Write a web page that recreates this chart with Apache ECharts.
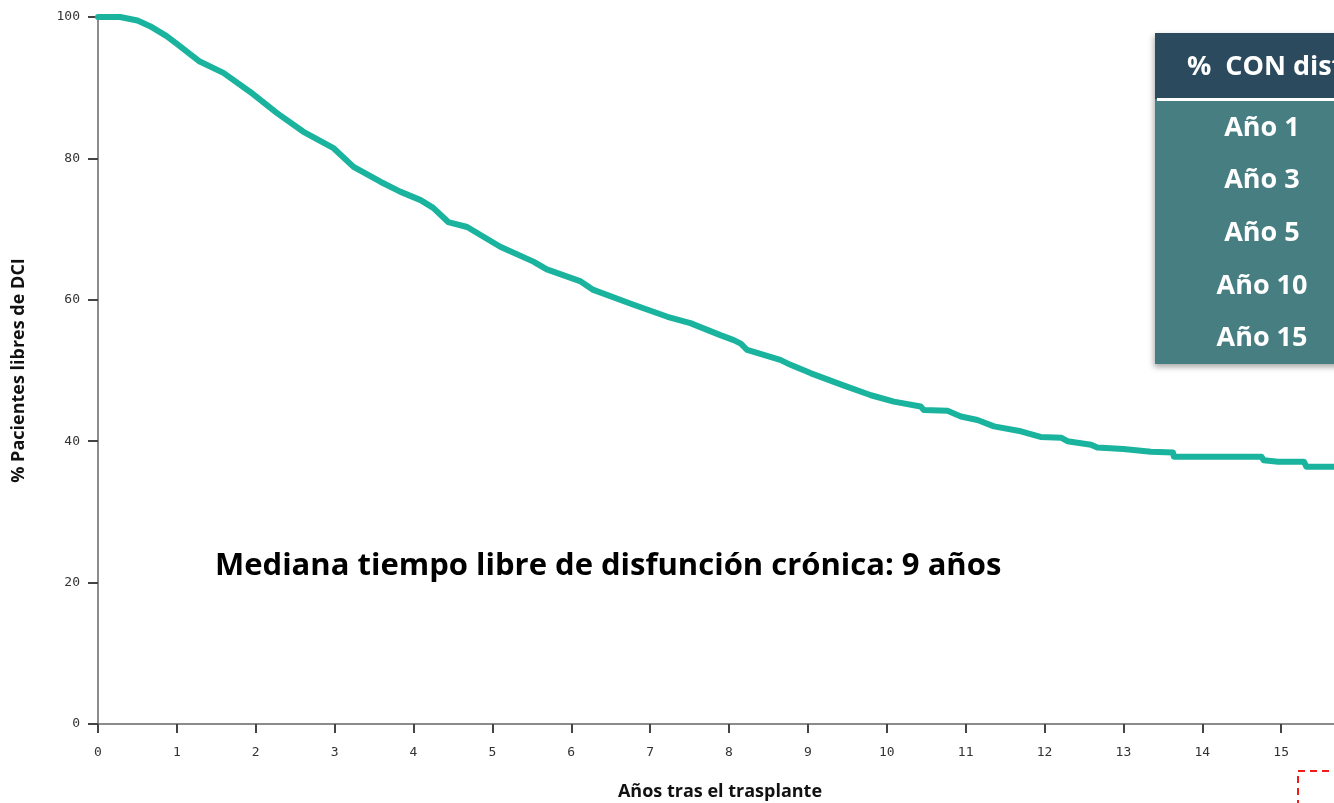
<!DOCTYPE html>
<html>
<head>
<meta charset="utf-8">
<script src="https://cdn.jsdelivr.net/npm/echarts@6/dist/echarts.min.js"></script>
<style>
    html, body { margin: 0; padding: 0; background: #fff; }
    #chart { width: 1334px; height: 803px; }
</style>
</head>
<body>
<div id="chart"></div>
<script>
// Kaplan-Meier curve (years, % free of DCI)
const years = [
    0, 0.28, 0.5, 0.66, 0.87, 1.0, 1.29, 1.59, 1.93, 2.27, 2.6, 2.98, 3.24, 3.58, 3.83, 4.09,
    4.25, 4.44, 4.68, 5.1, 5.52, 5.69, 6.12, 6.28, 6.79, 7.22, 7.51, 7.89, 8.06, 8.15, 8.23,
    8.65, 8.78, 9.04, 9.45, 9.8, 10.09, 10.43, 10.47, 10.77, 10.94, 11.15, 11.36, 11.7, 11.95,
    12.21, 12.29, 12.59, 12.67, 13.0, 13.35, 13.63, 13.64, 14.75, 14.78, 14.96, 15.29, 15.32, 15.9
];
const freePct = [
    100, 100, 99.5, 98.7, 97.3, 96.2, 93.7, 92.1, 89.4, 86.4, 83.8, 81.5, 78.8, 76.7, 75.3, 74.1,
    73.0, 71.0, 70.3, 67.5, 65.4, 64.3, 62.6, 61.4, 59.3, 57.6, 56.7, 55.0, 54.3, 53.8, 52.9,
    51.5, 50.8, 49.6, 47.9, 46.5, 45.6, 44.9, 44.4, 44.3, 43.5, 43.0, 42.1, 41.4, 40.6,
    40.5, 40.0, 39.5, 39.1, 38.9, 38.5, 38.4, 37.8, 37.8, 37.3, 37.1, 37.1, 36.4, 36.4
];
const yTicks = [0, 20, 40, 60, 80, 100];
const xTickCount = 16;

const tableHeader = '%  CON disfunción';
const tableRows = ['Año 1', 'Año 3', 'Año 5', 'Año 10', 'Año 15'];

const medianNote = 'Mediana tiempo libre de disfunción crónica: 9 años';
const xTitle = 'Años tras el trasplante';
const yTitle = '% Pacientes libres de DCI';

const tickFont = {
    fontFamily: 'DejaVu Sans Mono',
    fontSize: 13,
    color: '#333'
};

const titleFont = {
    fontFamily: 'Open Sans',
    fontWeight: 'bold',
    fontSize: 18,
    color: '#111'
};

const buildTable = () => {
    const children = [
        {
            type: 'rect',
            shape: { x: 1155, y: 33, width: 260, height: 331 },
            style: {
                fill: '#467e82',
                shadowBlur: 6,
                shadowOffsetX: -1,
                shadowOffsetY: 3,
                shadowColor: 'rgba(0,0,0,0.35)'
            }
        },
        {
            type: 'rect',
            shape: { x: 1155, y: 33, width: 260, height: 66 },
            style: { fill: '#2c4a5e' }
        },
        {
            type: 'rect',
            shape: { x: 1157, y: 98, width: 260, height: 3 },
            style: { fill: '#ffffff' }
        },
        {
            type: 'text',
            x: 1187,
            y: 67,
            style: {
                text: tableHeader,
                fill: '#fff',
                font: 'bold 27px "Open Sans"',
                textVerticalAlign: 'middle'
            }
        }
    ];
    tableRows.forEach((row, i) => {
        children.push({
            type: 'text',
            x: 1262,
            y: 128 + i * 52.7,
            style: {
                text: row,
                fill: '#fff',
                font: 'bold 27px "Open Sans"',
                textAlign: 'center',
                textVerticalAlign: 'middle'
            }
        });
    });
    return { type: 'group', children: children };
};

const chart = echarts.init(document.getElementById('chart'), null, { renderer: 'canvas' });

chart.setOption({
    backgroundColor: '#fff',
    animation: false,
    grid: { left: 98, right: -26, top: 17, bottom: 79, outerBoundsMode: 'none', containLabel: false },
    xAxis: {
        type: 'value',
        min: 0,
        max: xTickCount,
        interval: 1,
        name: xTitle,
        nameLocation: 'middle',
        nameGap: 59,
        nameTextStyle: Object.assign({ padding: [0, 18, 0, 0] }, titleFont),
        axisLine: { lineStyle: { color: '#666', width: 1.5 } },
        axisTick: { length: 9, lineStyle: { color: '#444', width: 2 } },
        axisLabel: Object.assign({ margin: 22 }, tickFont),
        splitLine: { show: false }
    },
    yAxis: {
        type: 'value',
        min: yTicks[0],
        max: yTicks[yTicks.length - 1],
        interval: yTicks[1] - yTicks[0],
        name: yTitle,
        nameLocation: 'middle',
        nameGap: 70,
        nameRotate: 90,
        nameTextStyle: titleFont,
        axisLine: { show: true, lineStyle: { color: '#666', width: 1.5 } },
        axisTick: { show: true, length: 10, lineStyle: { color: '#444', width: 2 } },
        axisLabel: Object.assign({ margin: 18 }, tickFont),
        splitLine: { show: false }
    },
    series: [
        {
            type: 'line',
            data: years.map((y, i) => [y, freePct[i]]),
            showSymbol: false,
            symbol: 'none',
            lineStyle: { color: '#19b39e', width: 6, join: 'round', cap: 'round' },
            z: 3
        }
    ],
    graphic: [
        {
            type: 'text',
            x: 215,
            y: 566,
            style: {
                text: medianNote,
                fill: '#000',
                font: 'bold 31px "Open Sans"',
                textVerticalAlign: 'middle'
            }
        },
        buildTable(),
        {
            type: 'rect',
            shape: { x: 1298, y: 771, width: 120, height: 120 },
            style: { fill: null, stroke: '#f21b1b', lineWidth: 2, lineDash: [7, 5] }
        }
    ]
});
</script>
</body>
</html>
